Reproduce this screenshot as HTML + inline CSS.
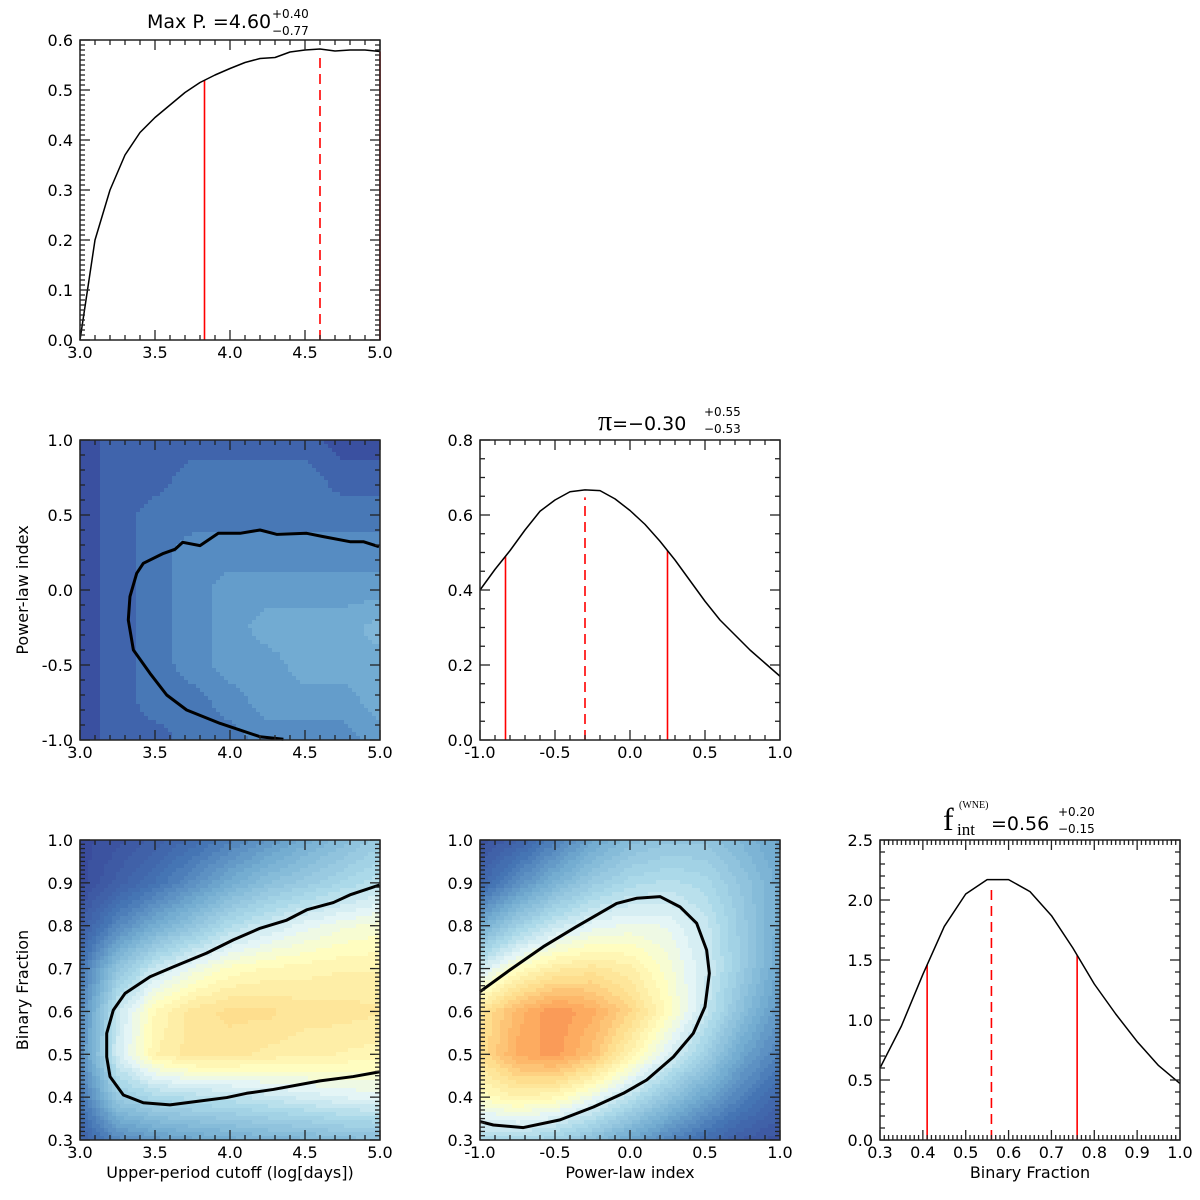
<!DOCTYPE html>
<html><head><meta charset="utf-8">
<style>
html,body{margin:0;padding:0;background:#fff;}
svg{display:block;}
text{font-family:"DejaVu Sans","Liberation Sans",sans-serif;fill:#000;}
</style></head>
<body>
<svg id="fig" width="1200" height="1200" viewBox="0 0 1200 1200" xmlns="http://www.w3.org/2000/svg">
  <text x="147" y="28" font-size="19">Max P. =4.60</text>
  <text x="272" y="18" font-size="12">+0.40</text>
  <text x="272" y="35" font-size="12">−0.77</text>

  <text x="598" y="430" font-size="19"><tspan font-family="Liberation Serif" font-size="28">π</tspan>=−0.30</text>
  <text x="704" y="416" font-size="12">+0.55</text>
  <text x="704" y="433" font-size="12">−0.53</text>

  <text x="943" y="830" font-size="32" style="font-family:'Liberation Serif',serif">f</text>
  <text x="957" y="835" font-size="17" style="font-family:'Liberation Serif',serif">int</text>
  <text x="959" y="808" font-size="10" style="font-family:'Liberation Serif',serif">(WNE)</text>
  <text x="991" y="830" font-size="19">=0.56</text>
  <text x="1058" y="816" font-size="12">+0.20</text>
  <text x="1058" y="833" font-size="12">−0.15</text>

  <text transform="translate(28,590) rotate(-90)" text-anchor="middle" font-size="16">Power-law index</text>
  <text transform="translate(28,990) rotate(-90)" text-anchor="middle" font-size="16">Binary Fraction</text>
  <text x="230" y="1178" text-anchor="middle" font-size="16">Upper-period cutoff (log[days])</text>
  <text x="630" y="1178" text-anchor="middle" font-size="16">Power-law index</text>
  <text x="1030" y="1178" text-anchor="middle" font-size="16">Binary Fraction</text>
</svg>
<script>
// ---- data ----
const periodX = [3.0,3.1,3.2,3.3,3.4,3.5,3.6,3.7,3.8,3.9,4.0,4.1,4.2,4.3,4.4,4.5,4.6,4.7,4.8,4.9,5.0];
const periodY = [0.0,0.20,0.30,0.37,0.415,0.445,0.47,0.495,0.515,0.53,0.543,0.555,0.563,0.565,0.576,0.58,0.582,0.578,0.58,0.58,0.577];
const periodLines = [3.83,5.0];
const periodMedian = 4.60;

const plawX = [-1.0,-0.9,-0.8,-0.7,-0.6,-0.5,-0.4,-0.3,-0.2,-0.1,0.0,0.1,0.2,0.3,0.4,0.5,0.6,0.7,0.8,0.9,1.0];
const plawY = [0.40,0.455,0.505,0.56,0.61,0.64,0.662,0.667,0.665,0.643,0.612,0.575,0.53,0.48,0.425,0.37,0.32,0.28,0.24,0.205,0.17];
const plawLines = [-0.83,0.25];
const plawMedian = -0.30;

const bfX = [0.3,0.35,0.4,0.45,0.5,0.55,0.6,0.65,0.7,0.75,0.8,0.85,0.9,0.95,1.0];
const bfY = [0.6,0.95,1.38,1.78,2.05,2.17,2.17,2.07,1.87,1.6,1.3,1.05,0.82,0.62,0.47];
const bfLines = [0.41,0.76];
const bfMedian = 0.56;

// filled-contour level grid for period vs power-law (rows y=1.0 .. -1.0, cols x=3.0..5.0)
const gridPP = [
 [0,1,1,1,1,1,1,0,0],
 [0,1,1,2,2,2,2,1,1],
 [0,1,2,2,2,2,2,2,2],
 [0,1,2,3,3,3,3,3,3],
 [0,1,2,3,4,4,4,4,4],
 [0,1,2,3,4,5,5,5,6],
 [0,1,2,3,4,4,5,5,5],
 [0,1,2,2,3,4,4,4,5],
 [0,1,1,2,2,3,3,3,4]];
// density grid period vs binary fraction (rows y=1.0..0.3, cols x=3.0..5.0)
const gridPB = [
 [0.0,0.03,0.07,0.12,0.18,0.24,0.3,0.35,0.4],
 [0.0,0.07,0.14,0.22,0.3,0.36,0.4,0.44,0.48],
 [0.06,0.2,0.3,0.38,0.46,0.51,0.55,0.58,0.6],
 [0.15,0.38,0.5,0.57,0.62,0.64,0.65,0.66,0.66],
 [0.2,0.5,0.64,0.7,0.72,0.72,0.7,0.7,0.69],
 [0.22,0.52,0.66,0.7,0.7,0.68,0.67,0.66,0.65],
 [0.15,0.4,0.45,0.47,0.48,0.5,0.52,0.54,0.55],
 [0.08,0.2,0.25,0.28,0.3,0.32,0.33,0.35,0.36]];
// density grid power-law vs binary fraction (rows y=1.0..0.3, cols x=-1..1)
const gridLB = [
 [0.02,0.08,0.18,0.28,0.35,0.38,0.38,0.33,0.28],
 [0.1,0.22,0.32,0.4,0.45,0.47,0.45,0.38,0.3],
 [0.3,0.42,0.5,0.55,0.57,0.56,0.5,0.4,0.3],
 [0.52,0.62,0.68,0.7,0.67,0.6,0.52,0.4,0.28],
 [0.7,0.8,0.86,0.82,0.74,0.63,0.5,0.36,0.24],
 [0.72,0.82,0.85,0.78,0.66,0.54,0.42,0.28,0.18],
 [0.62,0.66,0.64,0.57,0.48,0.38,0.28,0.18,0.1],
 [0.45,0.45,0.42,0.36,0.28,0.2,0.12,0.06,0.02]];

const contPPx = [4.356,4.2,3.933,3.711,3.578,3.467,3.356,3.322,3.333,3.378,3.422,3.556,3.633,3.685,3.8,3.922,4.067,4.2,4.311,4.511,4.622,4.8,4.889,4.993];
const contPPy = [-0.995,-0.978,-0.889,-0.8,-0.7,-0.556,-0.4,-0.2,-0.044,0.111,0.178,0.244,0.271,0.318,0.296,0.378,0.378,0.4,0.371,0.378,0.356,0.322,0.322,0.289];
const contPBx = [4.996,4.8,4.689,4.511,4.378,4.2,4.022,3.844,3.622,3.467,3.3,3.222,3.178,3.178,3.2,3.289,3.422,3.6,3.8,3.978,4.111,4.289,4.6,4.822,4.996];
const contPBy = [0.895,0.872,0.854,0.837,0.813,0.794,0.767,0.736,0.704,0.681,0.642,0.603,0.549,0.494,0.448,0.405,0.387,0.382,0.391,0.399,0.409,0.418,0.438,0.448,0.459];
const contLBx = [-1,-0.8,-0.578,-0.356,-0.089,0.044,0.2,0.333,0.444,0.511,0.529,0.5,0.422,0.289,0.111,-0.044,-0.244,-0.467,-0.711,-0.911,-1];
const contLBy = [0.646,0.697,0.751,0.798,0.852,0.864,0.868,0.844,0.806,0.743,0.689,0.611,0.549,0.494,0.44,0.409,0.377,0.347,0.329,0.335,0.343];

// ---- rendering ----
const NS='http://www.w3.org/2000/svg';
const svg=document.getElementById('fig');
function mk(tag,attrs,parent){const e=document.createElementNS(NS,tag);for(const k in attrs)e.setAttribute(k,attrs[k]);(parent||svg).appendChild(e);return e;}
function panel(x0,y0,xmin,xmax,ymin,ymax){return {x0,y0,w:300,h:300,xmin,xmax,ymin,ymax,
  sx:v=>x0+(v-xmin)/(xmax-xmin)*300, sy:v=>y0+300-(v-ymin)/(ymax-ymin)*300};}

function axes(p,name,xmaj,xmin_,ymaj,ymin_,xdec,ydec){
  const g=mk('g',{});
  
  
  const eps=1e-9;
  function ticks(lo,hi,step,cb){const n=Math.round((hi-lo)/step);for(let i=0;i<=n;i++)cb(lo+i*step,i);}
  ticks(p.xmin,p.xmax,xmin_,v=>{const X=p.sx(v);
    const maj=Math.abs((v-p.xmin)/xmaj-Math.round((v-p.xmin)/xmaj))<1e-6;const L=maj?10:5;
    mk('line',{x1:X,x2:X,y1:p.y0+300,y2:p.y0+300-L,stroke:'#222','stroke-width':1.3},g);
    mk('line',{x1:X,x2:X,y1:p.y0,y2:p.y0+L,stroke:'#222','stroke-width':1.3},g);
  });
  ticks(p.ymin,p.ymax,ymin_,v=>{const Y=p.sy(v);
    const maj=Math.abs((v-p.ymin)/ymaj-Math.round((v-p.ymin)/ymaj))<1e-6;const L=maj?10:5;
    mk('line',{x1:p.x0,x2:p.x0+L,y1:Y,y2:Y,stroke:'#222','stroke-width':1.3},g);
    mk('line',{x1:p.x0+300,x2:p.x0+300-L,y1:Y,y2:Y,stroke:'#222','stroke-width':1.3},g);
  });
  mk('rect',{x:p.x0,y:p.y0,width:300,height:300,fill:'none',stroke:'#222','stroke-width':1.5},g);
  ticks(p.xmin,p.xmax,xmaj,v=>{const t=mk('text',{x:p.sx(v),y:p.y0+318,'text-anchor':'middle','font-size':16},g);
    
    t.textContent=(Math.abs(v)<eps?0:v).toFixed(xdec);});
  ticks(p.ymin,p.ymax,ymaj,v=>{const t=mk('text',{x:p.x0-7,y:p.sy(v)+6,'text-anchor':'end','font-size':16},g);
    
    t.textContent=(Math.abs(v)<eps?0:v).toFixed(ydec);});
}

function hist(p,name,xs,ys,lines,med){
  const g=mk('g',{});
  
  
  const interp=x=>{for(let i=0;i<xs.length-1;i++){if(x>=xs[i]-1e-9&&x<=xs[i+1]+1e-9){const t=(x-xs[i])/(xs[i+1]-xs[i]);return ys[i]+t*(ys[i+1]-ys[i]);}}return ys[ys.length-1];};
  lines.forEach(v=>{const l=mk('line',{x1:p.sx(v),x2:p.sx(v),y1:p.sy(0),y2:p.sy(interp(v)),stroke:'#f00','stroke-width':1.6},g);
    });
  const m=mk('line',{x1:p.sx(med),x2:p.sx(med),y1:p.sy(0),y2:p.sy(interp(med)*0.97),stroke:'#f00','stroke-width':1.6,'stroke-dasharray':'10,6'},g);
  
  const pl=mk('polyline',{points:xs.map((x,i)=>p.sx(x)+','+p.sy(ys[i])).join(' '),fill:'none',stroke:'#000','stroke-width':1.5,'stroke-linejoin':'round'},g);
  
}

function bil(grid,fx,fy){const R=grid.length-1,C=grid[0].length-1;
  const gx=fx*C,gy=fy*R;const i=Math.min(Math.floor(gy),R-1),j=Math.min(Math.floor(gx),C-1);
  const tx=gx-j,ty=gy-i;
  return grid[i][j]*(1-tx)*(1-ty)+grid[i][j+1]*tx*(1-ty)+grid[i+1][j]*(1-tx)*ty+grid[i+1][j+1]*tx*ty;}

const blues=[[58,80,160],[64,100,172],[72,120,182],[86,140,194],[100,157,203],[114,171,210],[128,182,216]];
const cmapStops=[[0,[58,76,156]],[0.15,[69,117,180]],[0.3,[116,173,209]],[0.45,[171,217,233]],[0.55,[228,245,246]],[0.62,[255,255,195]],[0.72,[254,224,144]],[0.82,[253,174,97]],[0.92,[244,109,67]]];
function cmap(v){v=Math.max(0,Math.min(0.92,v));for(let i=0;i<cmapStops.length-1;i++){const a=cmapStops[i],b=cmapStops[i+1];if(v<=b[0]){const t=(v-a[0])/(b[0]-a[0]);return 'rgb('+a[1].map((c,k)=>Math.round(c+t*(b[1][k]-c))).join(',')+')';}}return 'rgb(244,109,67)';}

function heat(p,name,grid,colorFn){
  const g=mk('g',{'shape-rendering':'crispEdges'});
  
  
  const N=75,s=300/N;
  for(let r=0;r<N;r++)for(let c=0;c<N;c++){
    const v=bil(grid,(c+0.5)/N,(r+0.5)/N);
    mk('rect',{x:p.x0+c*s,y:p.y0+r*s,width:s+0.6,height:s+0.6,fill:colorFn(v)},g);
  }
}
function contour(p,name,xs,ys){
  const pl=mk('polyline',{points:xs.map((x,i)=>p.sx(x)+','+p.sy(ys[i])).join(' '),fill:'none',stroke:'#000','stroke-width':3,'stroke-linejoin':'round'});
  
  
}

// panels
const p1=panel(80,40,3,5,0,0.6);
hist(p1,'period-posterior',periodX,periodY,periodLines,periodMedian);
axes(p1,'period-posterior',0.5,0.1,0.1,0.01,1,1);

const p2=panel(80,440,3,5,-1,1);
heat(p2,'period-vs-powerlaw-density',gridPP,v=>{const k=Math.max(0,Math.min(6,Math.round(v)));return 'rgb('+blues[k].join(',')+')';});
contour(p2,'period-vs-powerlaw-contour',contPPx,contPPy);
axes(p2,'period-vs-powerlaw',0.5,0.1,0.5,0.1,1,1);

const p3=panel(480,440,-1,1,0,0.8);
hist(p3,'powerlaw-posterior',plawX,plawY,plawLines,plawMedian);
axes(p3,'powerlaw-posterior',0.5,0.1,0.2,0.05,1,1);

const p4=panel(80,840,3,5,0.3,1.0);
heat(p4,'period-vs-binary-density',gridPB,v=>cmap(Math.round(v*40)/40));
contour(p4,'period-vs-binary-contour',contPBx,contPBy);
axes(p4,'period-vs-binary',0.5,0.1,0.1,0.01,1,1);

const p5=panel(480,840,-1,1,0.3,1.0);
heat(p5,'powerlaw-vs-binary-density',gridLB,v=>cmap(Math.round(v*40)/40));
contour(p5,'powerlaw-vs-binary-contour',contLBx,contLBy);
axes(p5,'powerlaw-vs-binary',0.5,0.1,0.1,0.01,1,1);

const p6=panel(880,840,0.3,1.0,0,2.5);
hist(p6,'binary-fraction-posterior',bfX,bfY,bfLines,bfMedian);
axes(p6,'binary-fraction-posterior',0.1,0.01,0.5,0.1,1,1);
</script>
</body></html>
